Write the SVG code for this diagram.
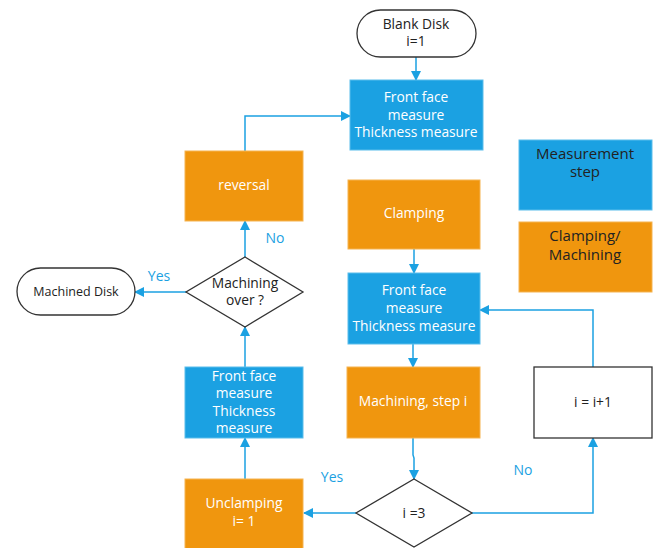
<svg xmlns="http://www.w3.org/2000/svg" width="659" height="548" viewBox="0 0 659 548">
<style>
text{font-family:"Open Sans","Noto Sans",sans-serif;font-size:13.8px;text-anchor:middle;dominant-baseline:middle}
.b{fill:#1BA1E2;stroke:#5BBDEB;stroke-width:1}
.o{fill:#F0960E;stroke:#F5B350;stroke-width:1}
.w{fill:#fff}
.d{fill:#222}
.t{fill:#fff;stroke:#333;stroke-width:1.3}
.c{fill:none;stroke:#1BA1E2;stroke-width:1.5}
.l{fill:#1BA1E2;font-size:14px}
.g{font-size:15px}
</style>
<defs>
<marker id="a" markerWidth="10" markerHeight="10" refX="9" refY="5" orient="auto" markerUnits="userSpaceOnUse">
<path d="M0,0 L10,5 L0,10 z" fill="#1BA1E2"/>
</marker>
</defs>
<rect width="659" height="548" fill="#fff"/>
<g id="connectors">
<path class="c" d="M416,57 V80" marker-end="url(#a)"/>
<path class="c" d="M414,249 V273" marker-end="url(#a)"/>
<path class="c" d="M413,344 V367" marker-end="url(#a)"/>
<path class="c" d="M413,438 V455 L414,458 V479" marker-end="url(#a)"/>
<path class="c" d="M472,513 H593 V438" marker-end="url(#a)"/>
<path class="c" d="M593,367 V310 H480" marker-end="url(#a)"/>
<path class="c" d="M356,513 H304" marker-end="url(#a)"/>
<path class="c" d="M245,479 V438" marker-end="url(#a)"/>
<path class="c" d="M245,367 V327" marker-end="url(#a)"/>
<path class="c" d="M186,292 H135" marker-end="url(#a)"/>
<path class="c" d="M245,257 V221" marker-end="url(#a)"/>
<path class="c" d="M245,151 V116 H350" marker-end="url(#a)"/>
<text class="l" x="523" y="471">No</text>
<text class="l" x="332" y="478">Yes</text>
<text class="l" x="159" y="277">Yes</text>
<text class="l" x="275" y="239">No</text>
</g>
<g id="blank-disk">
<rect class="t" x="357" y="10" width="119" height="47" rx="23.5"/>
<text class="d" x="416" y="25">Blank Disk</text>
<text class="d" x="416" y="42">i=1</text>
</g>
<g id="measure-1">
<rect class="b" x="350" y="80" width="133" height="70"/>
<text class="w" x="416" y="98">Front face</text>
<text class="w" x="416" y="116">measure</text>
<text class="w" x="416" y="133">Thickness measure</text>
</g>
<g id="clamping">
<rect class="o" x="348" y="180" width="132" height="69"/>
<text class="w" x="414" y="214">Clamping</text>
</g>
<g id="measure-2">
<rect class="b" x="348" y="273" width="132" height="71"/>
<text class="w" x="414" y="291">Front face</text>
<text class="w" x="414" y="309">measure</text>
<text class="w" x="414" y="327">Thickness measure</text>
</g>
<g id="machining">
<rect class="o" x="347" y="367" width="133" height="71"/>
<text class="w" x="413" y="402">Machining, step i</text>
</g>
<g id="increment">
<rect class="t" x="534" y="367" width="118" height="71"/>
<text class="d" x="593" y="403">i = i+1</text>
</g>
<g id="decision-i3">
<polygon class="t" points="414,479 472,513 414,547 356,513"/>
<text class="d" x="414" y="514">i =3</text>
</g>
<g id="unclamping">
<rect class="o" x="185" y="479" width="118" height="72"/>
<text class="w" x="244" y="504">Unclamping</text>
<text class="w" x="244" y="522">i= 1</text>
</g>
<g id="measure-3">
<rect class="b" x="185" y="367" width="118" height="71"/>
<text class="w" x="244" y="377">Front face</text>
<text class="w" x="244" y="394">measure</text>
<text class="w" x="244" y="412">Thickness</text>
<text class="w" x="244" y="429">measure</text>
</g>
<g id="decision-over">
<polygon class="t" points="245,257 303,292 245,327 186,292"/>
<text class="d" x="245" y="284">Machining</text>
<text class="d" x="245" y="301">over ?</text>
</g>
<g id="machined-disk">
<rect class="t" x="17" y="268" width="118" height="47" rx="23.5"/>
<text class="d" x="76" y="293" style="font-size:12.5px">Machined Disk</text>
</g>
<g id="reversal">
<rect class="o" x="185" y="151" width="118" height="70"/>
<text class="w" x="244" y="186">reversal</text>
</g>
<g id="legend-measurement">
<rect class="b" x="519" y="140" width="133" height="70"/>
<text class="d g" x="585" y="155">Measurement</text>
<text class="d g" x="585" y="173">step</text>
</g>
<g id="legend-clamping">
<rect class="o" x="519" y="222" width="133" height="70"/>
<text class="d g" x="585" y="237">Clamping/</text>
<text class="d g" x="585" y="256">Machining</text>
</g>
</svg>
